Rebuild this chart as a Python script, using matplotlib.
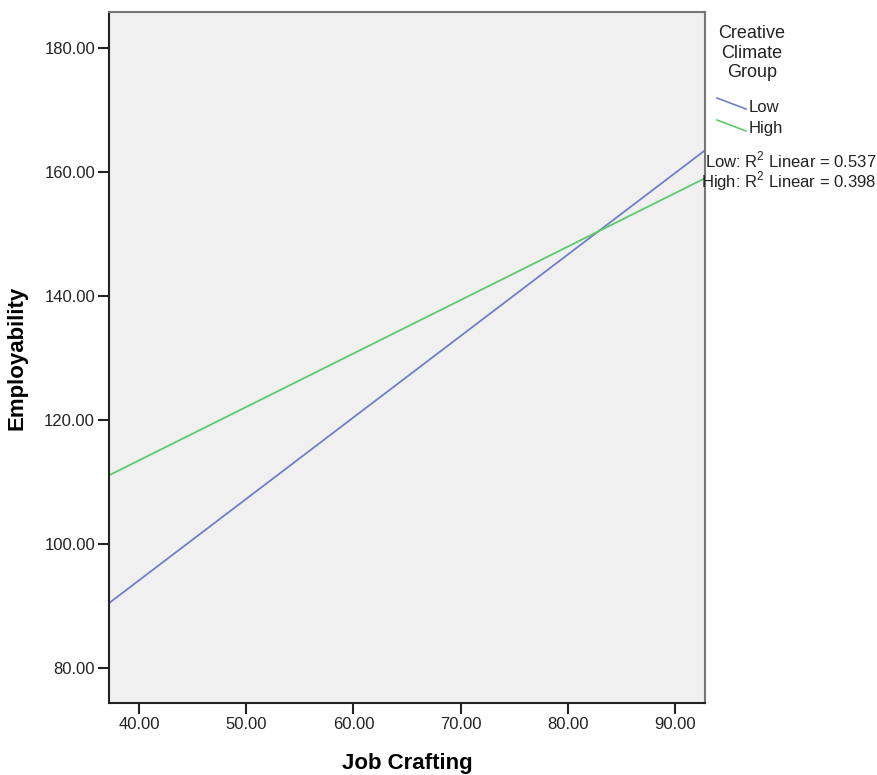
import numpy as np
import matplotlib
matplotlib.use("Agg")
import matplotlib.pyplot as plt
from matplotlib.lines import Line2D

plt.rcParams['font.family'] = ['Liberation Sans', 'DejaVu Sans']
plt.rcParams['mathtext.fontset'] = 'custom'
plt.rcParams['mathtext.rm'] = 'Liberation Sans'

# fit lines (end points)
job_crafting = [37.2, 92.8]
low_fit = [90.5, 163.5]
high_fit = [111.1, 159.0]
groups = ["Low", "High"]
r2 = [0.537, 0.398]
x_ticks = [40, 50, 60, 70, 80, 90]
y_ticks = [80, 100, 120, 140, 160, 180]

low_col = "#6f7fc8"
high_col = "#5ccc6a"

fig = plt.figure(figsize=(8.77, 7.75), dpi=100)
ax = fig.add_axes([109/877, 72/775, 596/877, 691/775])
ax.set_facecolor("#f0f0f0")

ax.plot(job_crafting, low_fit, color=low_col, lw=1.3)
ax.plot(job_crafting, high_fit, color=high_col, lw=1.3)

ax.set_xlim(37.2, 92.8)
ax.set_ylim(74.4, 185.8)
ax.set_xticks(x_ticks)
ax.set_yticks(y_ticks)
ax.set_xticklabels(["%.2f" % v for v in x_ticks])
ax.set_yticklabels(["%.2f" % v for v in y_ticks])
ax.tick_params(labelsize=12, length=8, width=1.5, colors="#222222", pad=2)
for s in ["left", "bottom"]:
    ax.spines[s].set_color("#222222")
    ax.spines[s].set_linewidth(1.5)
for s in ["top", "right"]:
    ax.spines[s].set_color("#777777")
    ax.spines[s].set_linewidth(1.5)

ax.set_xlabel("Job Crafting", fontsize=16, fontweight="bold", labelpad=15)
ax.set_ylabel("Employability", fontsize=16, fontweight="bold", labelpad=12)

# legend drawn by hand (SPSS style)
fig.text(752/877, 1 - 53/775, "Creative\nClimate\nGroup", ha="center", va="center",
         fontsize=13, linespacing=1.2, color="#222222")
cols = [low_col, high_col]
for i, (g, c) in enumerate(zip(groups, cols)):
    y0 = 98 + i * 22
    fig.add_artist(Line2D([717/877, 746/877], [1 - y0/775, 1 - (y0 + 11)/775],
                          color=c, lw=1.2))
    fig.text(749/877, 1 - (y0 + 9)/775, g, ha="left", va="center", fontsize=12,
             color="#222222")

for i, (g, v) in enumerate(zip(groups, r2)):
    fig.text(876/877, 1 - (160 + i * 21)/775, g + ": R$^2$ Linear = %.3f" % v,
             ha="right", va="center", fontsize=12, color="#222222")

plt.savefig("out.png", dpi=100)
